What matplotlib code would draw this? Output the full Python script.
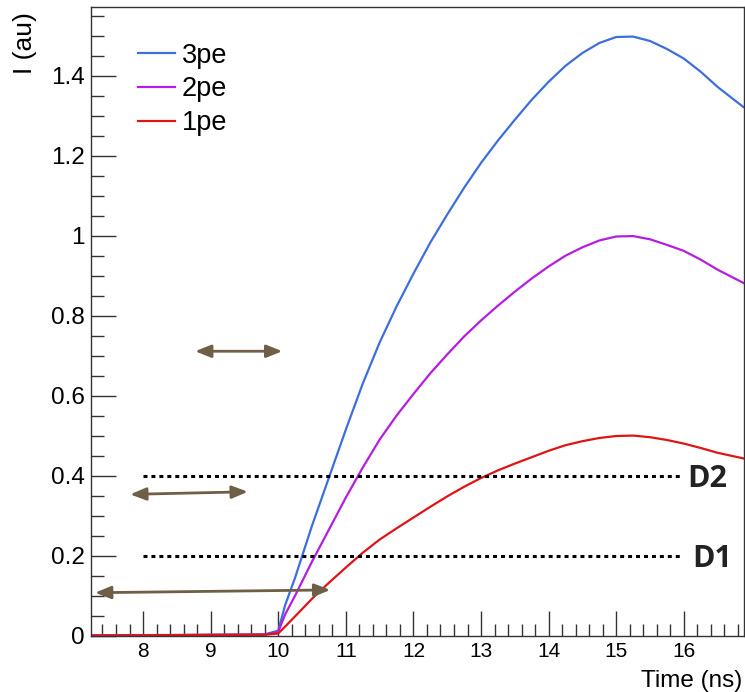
import numpy as np
import matplotlib
matplotlib.use("Agg")
import matplotlib.pyplot as plt
from matplotlib.ticker import MultipleLocator, FuncFormatter

###############
# Values
time = [7.23, 9.8, 10.0, 10.1, 10.25, 10.5, 10.75, 11.0, 11.25, 11.5, 11.75, 12.0,
        12.25, 12.5, 12.75, 13.0, 13.25, 13.5, 13.75, 14.0, 14.25, 14.5, 14.75,
        15.0, 15.25, 15.5, 15.75, 16.0, 16.25, 16.5, 16.88]
pe3 = [0.0, 0.003, 0.012, 0.075, 0.145, 0.275, 0.395, 0.515, 0.63, 0.733, 0.823, 0.905,
       0.983, 1.053, 1.12, 1.182, 1.238, 1.29, 1.34, 1.385, 1.425, 1.457, 1.482,
       1.497, 1.498, 1.487, 1.467, 1.443, 1.41, 1.372, 1.322]
pe2 = [0.0, 0.002, 0.009, 0.052, 0.1, 0.185, 0.265, 0.345, 0.42, 0.49, 0.55, 0.604,
       0.656, 0.703, 0.748, 0.788, 0.825, 0.86, 0.893, 0.923, 0.95, 0.971, 0.988,
       0.998, 0.999, 0.991, 0.977, 0.962, 0.94, 0.915, 0.882]
pe1 = [0.0, 0.002, 0.005, 0.022, 0.048, 0.092, 0.132, 0.17, 0.207, 0.24, 0.268, 0.295,
       0.322, 0.348, 0.372, 0.394, 0.413, 0.43, 0.446, 0.462, 0.476, 0.486, 0.494,
       0.499, 0.5, 0.496, 0.489, 0.48, 0.469, 0.457, 0.443]

# Discriminator thresholds
thresholds = [0.2, 0.4]
threshold_names = ["D1", "D2"]
threshold_span = [8.0, 15.94]

# Double-headed arrows: (t_start, I_start, t_end, I_end)
arrows = [(8.77, 0.711, 10.06, 0.711),
          (7.81, 0.353, 9.55, 0.3595),
          (7.29, 0.107, 10.77, 0.114)]

###############
plt.rcParams['font.family'] = ['Liberation Sans', 'DejaVu Sans']

fig = plt.figure(figsize=(7.45, 6.92), dpi=100)
ax = fig.add_axes([91 / 745, 1 - 635.5 / 692, (744 - 91) / 745, (635.5 - 7) / 692])

# curves, red drawn last so it sits on top
ax.plot(time, pe3, color='#3d6fdc', lw=1.6, label='3pe')
ax.plot(time, pe2, color='#b41ee0', lw=1.6, label='2pe')
ax.plot(time, pe1, color='#e01414', lw=1.6, label='1pe')

# thresholds with their labels
label_x = {"D1": 16.12, "D2": 16.05}
for level, name in zip(thresholds, threshold_names):
    ax.hlines(level, threshold_span[0], threshold_span[1], colors='black',
              lw=2.2, linestyles=(0, (1.3, 1.3)))
    ax.text(label_x[name], level - 0.028, name, fontsize=22, fontweight='bold',
            family='Open Sans', color='#222222', ha='left', va='baseline')

# arrows
for t0, i0, t1, i1 in arrows:
    ax.annotate('', xy=(t1, i1), xytext=(t0, i0),
                arrowprops=dict(arrowstyle='<|-|>,head_length=0.95,head_width=0.38',
                                color='#6e5f46', lw=2, mutation_scale=10,
                                shrinkA=0, shrinkB=0))

ax.set_xlim(7.23, 16.89)
ax.set_ylim(0, 1.572)

ax.xaxis.set_major_locator(MultipleLocator(1))
ax.xaxis.set_minor_locator(MultipleLocator(0.2))
ax.yaxis.set_major_locator(MultipleLocator(0.2))
ax.yaxis.set_minor_locator(MultipleLocator(0.05))
ax.yaxis.set_major_formatter(FuncFormatter(lambda v, p: '%g' % round(v, 2)))
ax.xaxis.set_major_formatter(FuncFormatter(lambda v, p: '%g' % v))

ax.tick_params(which='both', direction='in', top=False, right=False,
               colors='#333333', labelcolor='black', width=1)
ax.tick_params(which='major', length=18)
ax.tick_params(which='minor', length=9)
ax.tick_params(axis='y', pad=4.5, labelsize=17.5)
ax.tick_params(axis='x', pad=5, labelsize=15)
for s in ax.spines.values():
    s.set_color('#333333')
    s.set_linewidth(1)

fig.text(25 / 745, 1 - 74 / 692, 'I (au)', rotation=90, fontsize=19,
         ha='center', va='bottom')
fig.text(742 / 745, 1 - 687 / 692, 'Time (ns)', fontsize=17.5,
         ha='right', va='baseline')

ax.legend(loc='upper left', bbox_to_anchor=(0.072, 0.9435), frameon=False,
          fontsize=19.5, handlelength=1.37, handletextpad=0.25, labelspacing=0.29,
          borderpad=0, borderaxespad=0)

fig.savefig('out.png', dpi=100)
